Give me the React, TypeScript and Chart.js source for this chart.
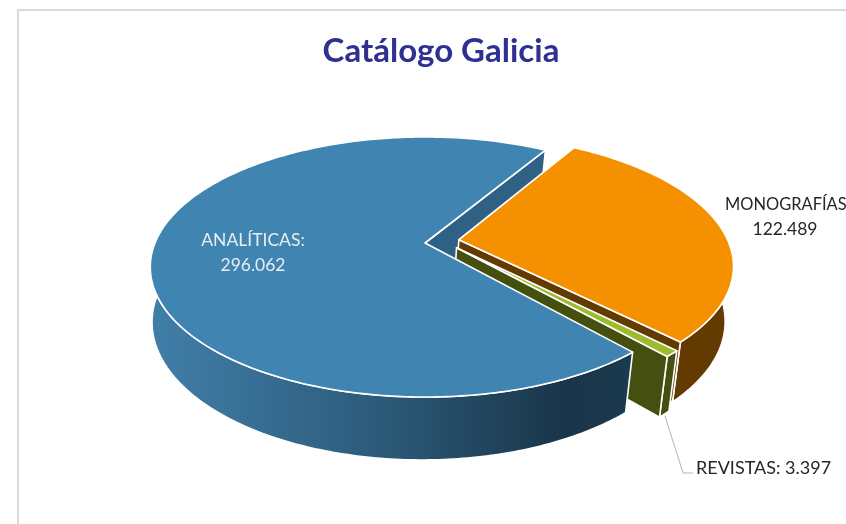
import React, { useEffect, useRef } from "react";
import { Chart, registerables } from "chart.js";

Chart.register(...registerables);

const categories = ["ANALÍTICAS", "MONOGRAFÍAS", "REVISTAS"];
const values = [296062, 122489, 3397];
const topColors = ["#4084b2", "#f59100", "#9cbb2e"];
const wallColors = ["#2e6184", "#633a00", "#454f10"];
const explodeU = [0, 0.126, 0.116];
const explodeV = [0, -0.026, 0.037];
const radiusScale = [1, 1, 0.985];
const titleText = "Catálogo Galicia";

// Camera model of the tilted disc
const CX = 425, CY = 243, K = 270, A = 125.6, B = 55, P = 0.1846, Q = 0.017, DX = -3;
const project = (u: number, v: number, t: number): [number, number] => {
  const w = 1 - P * v + Q * t;
  return [CX + DX * t + (K * u) / w, CY + (A * v + B * t) / w];
};

const rimPoint = (i: number, a: number, t: number) =>
  project(Math.cos(a) * radiusScale[i] + explodeU[i], Math.sin(a) * radiusScale[i] + explodeV[i], t);

const rim = (i: number, a0: number, a1: number, t: number) => {
  const n = Math.max(2, Math.ceil(Math.abs(a1 - a0) / 0.015));
  const pts: [number, number][] = [];
  for (let k = 0; k <= n; k++) pts.push(rimPoint(i, a0 + ((a1 - a0) * k) / n, t));
  return pts;
};

const paint = (ctx: CanvasRenderingContext2D, pts: [number, number][], fill: any) => {
  ctx.beginPath();
  pts.forEach(([x, y], i) => (i ? ctx.lineTo(x, y) : ctx.moveTo(x, y)));
  ctx.closePath();
  ctx.fillStyle = fill;
  ctx.fill();
  ctx.strokeStyle = "#ffffff";
  ctx.lineWidth = 1.6;
  ctx.lineJoin = "round";
  ctx.stroke();
};

const pie3d = {
  id: "pie3d",
  beforeDatasetDraw(chart: any) {
    const ctx: CanvasRenderingContext2D = chart.ctx;
    const arcs = chart.getDatasetMeta(0).data;
    const face = (i: number, angle: number) => {
      paint(
        ctx,
        [
          project(explodeU[i], explodeV[i], 0),
          rimPoint(i, angle, 0),
          rimPoint(i, angle, 1),
          project(explodeU[i], explodeV[i], 1),
        ],
        wallColors[i]
      );
    };
    const wall = (i: number, fill: any, limit = Infinity) => {
      const s = arcs[i].startAngle;
      const e = Math.min(arcs[i].endAngle, limit);
      paint(ctx, [...rim(i, s, e, 0), ...rim(i, e, s, 1)], fill);
    };
    const top = (i: number) => {
      paint(
        ctx,
        [project(explodeU[i], explodeV[i], 0), ...rim(i, arcs[i].startAngle, arcs[i].endAngle, 0)],
        arcs[i].options.backgroundColor
      );
    };
    ctx.save();
    // back to front: blue cut face, orange, green, blue body
    face(0, arcs[0].endAngle);
    wall(1, wallColors[1]);
    face(1, arcs[1].endAngle);
    top(1);
    wall(2, wallColors[2]);
    face(2, arcs[2].endAngle);
    top(2);
    const g = ctx.createLinearGradient(150, 0, 640, 0);
    g.addColorStop(0, "#417fa9");
    g.addColorStop(0.45, "#2d5c7c");
    g.addColorStop(0.85, "#193549");
    g.addColorStop(1, "#1b3a50");
    wall(0, g, Math.PI + 0.35);
    top(0);
    ctx.restore();
    return false;
  },
  afterDraw(chart: any) {
    const ctx: CanvasRenderingContext2D = chart.ctx;
    ctx.save();
    ctx.strokeStyle = "#d9d9d9";
    ctx.lineWidth = 2;
    ctx.beginPath();
    ctx.moveTo(18, 524);
    ctx.lineTo(18, 10);
    ctx.lineTo(846, 10);
    ctx.stroke();
    ctx.strokeStyle = "#b3b3b3";
    ctx.lineWidth = 1;
    ctx.beginPath();
    ctx.moveTo(665, 416);
    ctx.lineTo(683, 473);
    ctx.lineTo(693, 473);
    ctx.stroke();
    ctx.font = "17.5px Lato";
    ctx.textBaseline = "middle";
    const fmt = (n: number) => n.toLocaleString("es-ES", { useGrouping: "always" } as any);
    ctx.textAlign = "center";
    ctx.fillStyle = "#e6eef4";
    ctx.fillText(categories[0] + ":", 253, 240);
    ctx.fillText(fmt(values[0]), 253, 265);
    ctx.fillStyle = "#262626";
    ctx.fillText(fmt(values[1]), 785, 229);
    ctx.textAlign = "left";
    ctx.save();
    ctx.translate(725, 204);
    ctx.scale(0.94, 1);
    ctx.fillText(categories[1] + ":", 0, 0);
    ctx.restore();
    ctx.font = "18px Lato";
    ctx.fillText(`${categories[2]}: ${fmt(values[2])}`, 696, 468);
    ctx.restore();
  },
};

export default function App() {
  const ref = useRef<HTMLCanvasElement>(null);
  useEffect(() => {
    document.body.style.margin = "0";
    const chart = new Chart(ref.current!, {
      type: "pie",
      data: {
        labels: categories,
        datasets: [{ data: values, backgroundColor: topColors, borderColor: "#ffffff" }],
      },
      options: {
        responsive: false,
        animation: false,
        rotation: 138.5,
        layout: { padding: { left: 36 } },
        plugins: {
          legend: { display: false },
          tooltip: { enabled: false },
          title: {
            display: true,
            text: titleText,
            fullSize: false,
            color: "#2e3192",
            font: { family: "Lato", size: 33, weight: "bold" },
            padding: { top: 32, bottom: 10 },
          },
        },
      } as any,
      plugins: [pie3d as any],
    });
    return () => chart.destroy();
  }, []);
  return (
    <div style={{ position: "fixed", left: 0, top: 0, width: 846, height: 524, background: "#fff" }}>
      <canvas ref={ref} width={846} height={524} style={{ display: "block" }} />
    </div>
  );
}
